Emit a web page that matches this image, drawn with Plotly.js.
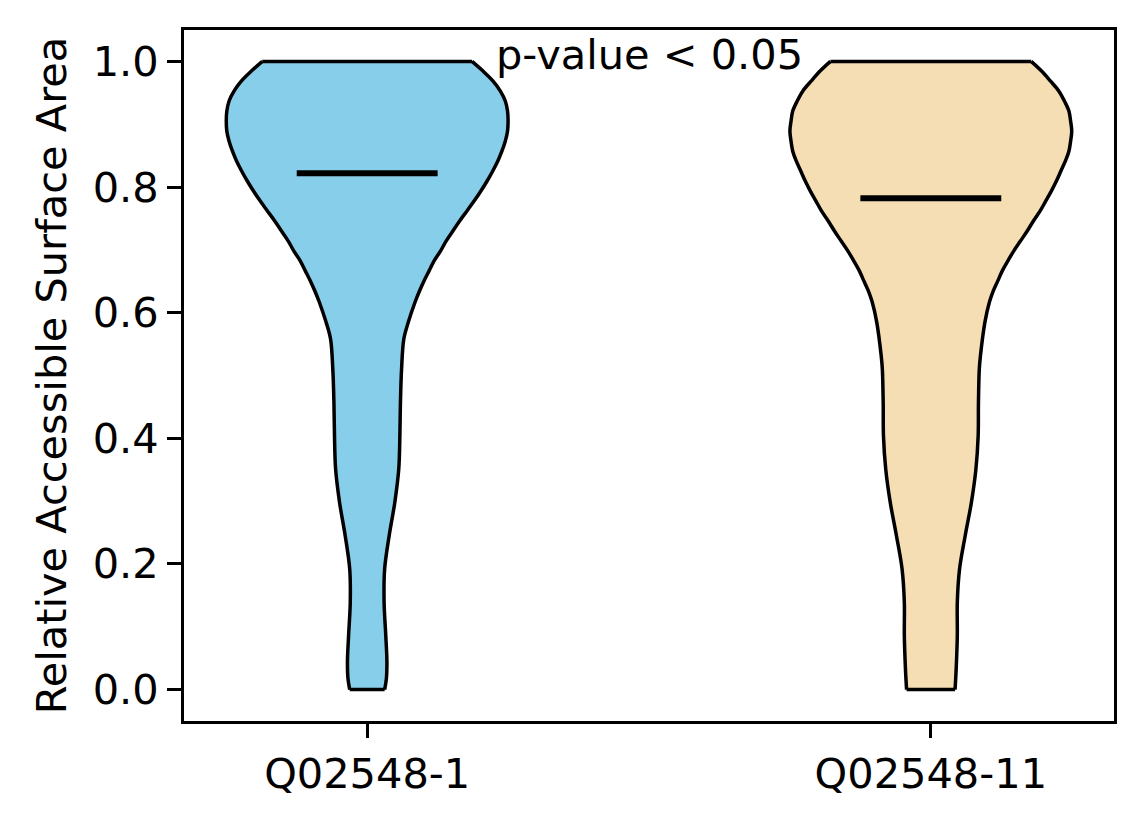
<!DOCTYPE html>
<html>
<head>
<meta charset="utf-8">
<script src="https://cdn.plot.ly/plotly-3.0.1.min.js"></script>
<style>
  html, body { margin: 0; padding: 0; background: #ffffff; }
  #chart { width: 1144px; height: 824px; }
</style>
</head>
<body>
<div id="chart"></div>
<script>
// ---- data ----
const categories = ['Q02548-1', 'Q02548-11'];
const positions = [1, 2];
const meanValues = [0.822, 0.782];
const pLabel = 'p-value < 0.05';

// density profile (half width of violin, in x-axis units) at RSA levels
const levels1 = [0.000, 0.017, 0.044, 0.086, 0.139, 0.192, 0.245, 0.298, 0.351, 0.404, 0.457, 0.510,
                 0.558, 0.585, 0.617, 0.635, 0.651, 0.667, 0.683, 0.698, 0.714, 0.730, 0.746, 0.762,
                 0.778, 0.794, 0.810, 0.826, 0.842, 0.857, 0.873, 0.889, 0.905, 0.921, 0.937, 0.953,
                 0.969, 0.985, 1.000];
const halfWidths1 = [0.031, 0.034, 0.035, 0.033, 0.030, 0.031, 0.039, 0.049, 0.056, 0.058, 0.059, 0.061,
                     0.065, 0.073, 0.085, 0.093, 0.101, 0.110, 0.119, 0.130, 0.140, 0.152, 0.164, 0.177,
                     0.190, 0.202, 0.213, 0.223, 0.232, 0.239, 0.245, 0.249, 0.250, 0.249, 0.245, 0.236,
                     0.223, 0.205, 0.186];

const levels2 = [0.000, 0.033, 0.086, 0.139, 0.192, 0.245, 0.298, 0.351, 0.404, 0.457, 0.510, 0.531,
                 0.585, 0.617, 0.635, 0.651, 0.667, 0.683, 0.698, 0.714, 0.730, 0.746, 0.762, 0.778,
                 0.794, 0.810, 0.826, 0.842, 0.857, 0.873, 0.889, 0.905, 0.921, 0.937, 0.953, 0.969,
                 0.985, 1.000];
const halfWidths2 = [0.043, 0.045, 0.047, 0.047, 0.051, 0.061, 0.072, 0.080, 0.084, 0.0845, 0.086, 0.088,
                     0.096, 0.104, 0.111, 0.119, 0.127, 0.137, 0.147, 0.159, 0.171, 0.182, 0.194, 0.204,
                     0.214, 0.223, 0.231, 0.239, 0.245, 0.248, 0.250, 0.248, 0.245, 0.237, 0.227, 0.212,
                     0.196, 0.178];

const fillColors = ['#87CEEB', '#F5DEB3'];

// ---- build traces ----
const FONT = 'DejaVu Sans, Verdana, sans-serif';
const FS = 41.5;
const profiles = [
  { levels: levels1, hw: halfWidths1 },
  { levels: levels2, hw: halfWidths2 }
];
const meanHalfLen = 0.125;
const traces = [];

profiles.forEach((p, k) => {
  const c = positions[k];
  const n = p.levels.length;
  const edge = { color: '#000000', width: 3.5, shape: 'spline', smoothing: 1 };
  traces.push({
    type: 'scatter', mode: 'lines',
    x: p.levels.map((v, i) => c - p.hw[i]), y: p.levels,
    line: edge, hoverinfo: 'skip', showlegend: false
  });
  traces.push({
    type: 'scatter', mode: 'lines',
    x: p.levels.map((v, i) => c + p.hw[i]), y: p.levels,
    line: edge, fill: 'tonextx', fillcolor: fillColors[k],
    hoverinfo: 'skip', showlegend: false
  });
  traces.push({
    type: 'scatter', mode: 'lines',
    x: [c - p.hw[0], c + p.hw[0], null, c - p.hw[n - 1], c + p.hw[n - 1]],
    y: [p.levels[0], p.levels[0], null, p.levels[n - 1], p.levels[n - 1]],
    line: { color: '#000000', width: 3.5 }, hoverinfo: 'skip', showlegend: false
  });
  traces.push({
    type: 'scatter', mode: 'lines',
    x: [c - meanHalfLen, c + meanHalfLen], y: [meanValues[k], meanValues[k]],
    line: { color: '#000000', width: 6 }, hoverinfo: 'skip', showlegend: false
  });
});

const layout = {
  width: 1144, height: 824,
  margin: { l: 184, r: 30, t: 30, b: 103, pad: 0 },
  paper_bgcolor: '#ffffff', plot_bgcolor: '#ffffff',
  font: { family: FONT, size: FS, color: '#000000' },
  showlegend: false,
  xaxis: {
    range: [0.675, 2.325],
    tickvals: positions, ticktext: categories,
    showgrid: false, zeroline: false,
    showline: true, mirror: true, linecolor: '#000000', linewidth: 3,
    ticks: 'outside', ticklen: 14, tickwidth: 3, tickcolor: '#000000',
    tickfont: { family: FONT, size: FS, color: '#000000' },
    automargin: false
  },
  yaxis: {
    range: [-0.05, 1.05],
    tickvals: [0, 0.2, 0.4, 0.6, 0.8, 1.0],
    ticktext: ['0.0', '0.2', '0.4', '0.6', '0.8', '1.0'],
    showgrid: false, zeroline: false,
    showline: true, mirror: true, linecolor: '#000000', linewidth: 3,
    ticks: 'outside', ticklen: 14, tickwidth: 3, tickcolor: '#000000',
    tickfont: { family: FONT, size: FS, color: '#000000' },
    title: { text: 'Relative Accessible Surface Area', font: { family: FONT, size: FS, color: '#000000' }, standoff: 14 },
    automargin: false
  },
  annotations: [{
    x: 1.5, y: 1.0, xref: 'x', yref: 'y',
    text: pLabel, showarrow: false,
    xanchor: 'center', yanchor: 'bottom', yshift: -20,
    font: { family: FONT, size: FS, color: '#000000' }
  }]
};

Plotly.newPlot('chart', traces, layout, { staticPlot: true, displayModeBar: false });
</script>
</body>
</html>
